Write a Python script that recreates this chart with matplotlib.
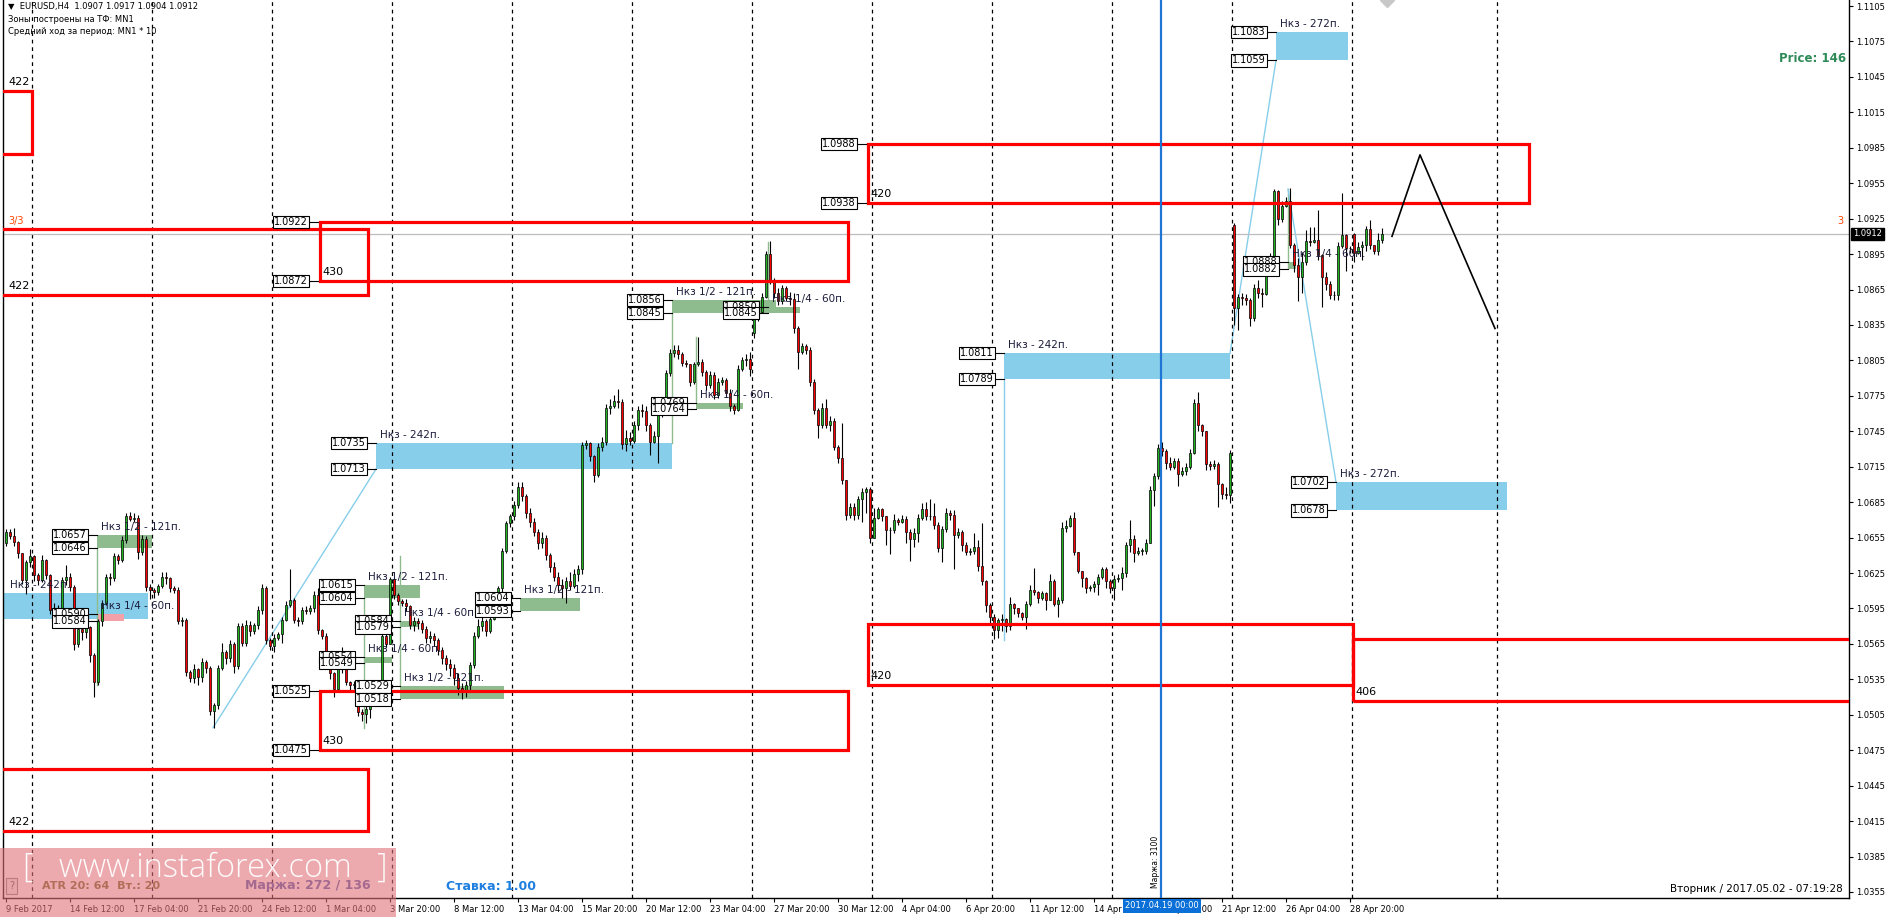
import numpy as np
import matplotlib
matplotlib.use("Agg")
import matplotlib.pyplot as plt
from matplotlib.patches import Rectangle

plt.rcParams['font.family'] = ['DejaVu Sans']

# ---------------- data (prices in pips above 1.0000) ----------------
cl = [660,656,651,642,619,634,639,623,619,636,
      623,594,595,592,619,622,613,565,578,575,
      579,556,533,584,600,622,621,639,636,653,
      673,671,672,643,654,613,611,609,614,622,
      621,612,611,584,585,541,536,544,537,550,
      545,508,513,545,558,553,565,546,580,566,
      581,576,581,594,612,568,563,570,573,585,
      598,602,585,584,594,593,595,606,577,572,
      554,540,527,554,545,533,530,531,507,506,
      510,517,520,519,572,565,620,606,601,600,
      597,581,584,583,578,570,572,568,560,553,
      548,545,536,528,524,530,547,572,580,584,
      576,586,593,612,644,667,673,683,698,690,
      676,668,660,650,655,640,630,622,615,612,
      618,614,624,628,733,735,724,708,732,736,
      765,766,771,770,734,739,737,750,763,762,
      750,736,741,759,763,794,811,814,810,803,
      802,787,802,804,795,784,793,776,787,788,
      777,766,763,798,805,806,798,840,846,859,
      895,873,862,855,866,858,857,832,812,817,
      814,787,763,750,765,750,754,732,722,704,
      674,681,674,688,694,696,655,672,679,673,
      661,661,670,668,671,660,654,659,672,679,
      673,673,666,646,662,676,674,657,660,649,
      643,644,647,631,618,598,588,577,585,586,
      580,599,595,591,588,599,611,609,604,608,
      602,618,599,602,663,665,672,643,627,621,
      612,613,616,622,628,618,612,620,621,625,
      649,654,642,644,644,650,695,707,731,728,
      718,715,720,709,711,715,727,769,750,745,
      717,716,717,700,692,691,727,849,859,858,
      856,841,866,862,861,890,892,948,925,936,
      940,903,886,876,888,906,905,907,894,876,
      870,860,860,902,911,900,900,896,901,903,
      916,903,898,907,912]
hi = [662,662,663,652,642,636,645,640,625,640,
      637,624,600,598,622,632,625,615,582,580,
      583,580,557,586,602,624,625,642,641,656,
      676,677,676,674,657,656,616,612,616,626,
      626,622,614,613,588,587,543,548,545,553,
      551,546,515,547,566,560,568,567,583,583,
      585,584,583,597,616,614,570,573,575,588,
      601,628,604,588,596,597,598,610,612,578,
      574,556,541,558,562,546,534,534,532,510,
      513,520,522,523,575,574,622,622,608,603,
      603,598,588,587,585,580,576,574,570,562,
      556,552,548,540,532,534,550,575,586,588,
      586,589,596,614,646,669,675,686,702,702,
      692,680,672,662,660,657,642,634,626,620,
      622,626,628,632,736,738,736,725,735,740,
      768,772,776,781,772,746,744,754,766,768,
      766,752,745,762,767,797,815,818,818,812,
      805,801,804,825,806,797,796,795,790,791,
      790,781,768,801,808,810,812,846,848,862,
      898,906,875,866,869,868,863,862,834,820,
      819,816,789,765,769,772,758,756,733,752,
      703,684,684,690,697,698,698,680,681,680,
      673,664,675,672,674,673,662,663,675,684,
      685,688,684,668,665,680,678,678,663,661,
      651,646,659,653,667,619,600,590,587,590,
      587,605,600,595,592,601,615,629,610,610,
      609,624,620,605,668,670,674,677,643,627,
      622,615,618,624,630,630,620,623,624,630,
      651,670,657,647,646,654,699,710,734,736,
      730,723,722,722,715,718,730,772,778,751,
      745,720,721,719,701,698,729,921,861,862,
      861,858,870,873,866,893,896,950,949,940,
      943,951,904,892,897,915,918,918,932,895,
      880,872,864,905,947,912,902,913,905,906,
      919,924,903,913,917]
lo = [648,654,648,638,616,607,630,618,615,617,
      620,590,590,588,590,615,610,560,562,568,
      570,550,520,530,580,598,615,618,633,634,
      650,669,668,637,640,610,603,604,606,612,
      616,609,608,582,580,538,533,532,530,533,
      540,505,494,510,543,548,550,540,544,563,
      563,572,573,578,590,565,560,558,568,566,
      584,596,583,580,582,590,590,592,573,569,
      551,535,520,524,540,530,525,527,504,500,
      498,502,514,515,515,562,566,603,598,597,
      593,578,576,578,574,566,566,563,556,548,
      543,538,530,522,518,520,526,545,570,576,
      572,574,585,590,608,642,664,670,680,686,
      672,664,656,645,646,636,626,618,610,604,
      600,611,612,618,624,730,720,702,706,728,
      733,760,765,765,730,728,733,735,746,757,
      745,725,735,718,757,760,792,808,806,800,
      799,783,785,800,792,780,782,772,773,784,
      774,762,760,762,796,800,792,824,838,845,
      858,870,858,852,853,855,852,828,798,810,
      810,783,760,739,748,748,745,729,718,700,
      670,672,670,671,668,676,650,661,671,669,
      649,641,659,666,667,650,635,647,651,670,
      670,670,662,643,634,660,670,628,655,644,
      640,640,641,627,615,592,583,569,570,576,
      575,577,590,588,585,578,597,606,600,602,
      594,602,597,588,600,660,664,640,625,613,
      608,610,609,606,620,612,608,602,617,611,
      622,643,634,640,640,641,650,682,705,724,
      713,712,713,699,707,708,713,726,745,741,
      712,712,713,681,688,688,684,835,831,852,
      852,834,838,858,850,860,883,890,920,922,
      935,900,880,855,862,886,902,904,890,850,
      865,857,856,856,900,881,896,888,895,890,
      898,899,895,894,904]
gap_open = {0: 650, 187: 828, 307: 920, 337: 912}

# red level zones (bar index from/to, price lo/hi)
red_x0 = [-3, -3, 78.5, 215.5, 215.5, 336.75, 78.5, -3]
red_x1 = [6.5, 90.5, 210.5, 380.75, 336.75, 480, 210.5, 90.5]
red_lo = [1.0980, 1.0860, 1.0872, 1.0938, 1.0530, 1.0517, 1.0475, 1.0407]
red_hi = [1.1033, 1.0916, 1.0922, 1.0988, 1.0582, 1.0569, 1.0525, 1.0459]
red_txt = ["422", "422", "430", "420", "420", "406", "430", "422"]
red_txt_top = [True, False, False, False, False, False, False, False]
red_tag = [False, False, True, True, False, False, True, False]

blue_x0 = [-0.75, 92.5, 249.5, 317.5, 332.5]
blue_x1 = [35.5, 166.5, 306.0, 335.5, 375.25]
blue_lo = [1.0586, 1.0713, 1.0789, 1.1059, 1.0678]
blue_hi = [1.0608, 1.0735, 1.0811, 1.1083, 1.0702]
blue_txt = ["Нкз - 242п.", "Нкз - 242п.", "Нкз - 242п.", "Нкз - 272п.", "Нкз - 272п."]
blue_tag = [False, True, True, True, True]

green_x0 = [22.75, 89.5, 98.5, 128.5, 166.5, 172.5, 89.5, 98.5, 190.5, 320.5]
green_x1 = [36.5, 103.5, 124.5, 143.5, 192.5, 184.25, 96.5, 103.0, 198.5, 322.5]
green_lo = [1.0646, 1.0604, 1.0518, 1.0593, 1.0845, 1.0764, 1.0549, 1.0579, 1.0845, 1.0882]
green_hi = [1.0657, 1.0615, 1.0529, 1.0604, 1.0856, 1.0769, 1.0554, 1.0584, 1.0850, 1.0888]
green_txt = ["Нкз 1/2 - 121п."] * 5 + ["Нкз 1/4 - 60п."] * 5

pink_x0, pink_x1, pink_lo, pink_hi = [22.75], [29.5], [1.0584], [1.0590]
pink_txt = ["Нкз 1/4 - 60п."]

lg_x = [22.75, 89.5, 98.5, 166.5, 172.5, 190.5, 320.5]
lg_y0 = [1.0646, 1.0604, 1.0639, 1.0845, 1.0825, 1.0905, 1.0950]
lg_y1 = [1.0530, 1.0494, 1.0529, 1.0735, 1.0769, 1.0856, 1.0883]

lb_x0 = [51.75, 249.5, 306.0, 320.5]
lb_y0 = [1.0494, 1.0568, 1.0811, 1.0950]
lb_x1 = [92.5, 249.5, 317.5, 332.5]
lb_y1 = [1.0713, 1.0789, 1.1059, 1.0702]

fc_x = [346.5, 353.5, 372.25]
fc_y = [1.0910, 1.0979, 1.0832]

sep_x = [6.5, 36.5, 66.5, 96.5, 126.5, 156.5, 186.5, 216.5, 246.5, 276.5, 306.5, 336.5, 372.75]
vline_x = 288.75
bid = 1.0912

xlab_pos = [0, 16, 32, 48, 64, 80, 96, 112, 128, 144, 160, 176, 192, 208, 224, 240,
            256, 272, 288, 304, 320, 336]
xlab_txt = ["9 Feb 2017", "14 Feb 12:00", "17 Feb 04:00", "21 Feb 20:00", "24 Feb 12:00",
            "1 Mar 04:00", "3 Mar 20:00", "8 Mar 12:00", "13 Mar 04:00", "15 Mar 20:00",
            "20 Mar 12:00", "23 Mar 04:00", "27 Mar 20:00", "30 Mar 12:00", "4 Apr 04:00",
            "6 Apr 20:00", "11 Apr 12:00", "14 Apr 04:00", "18 Apr 20:00", "21 Apr 12:00",
            "26 Apr 04:00", "28 Apr 20:00"]
y_ticks = [1.0355, 1.0385, 1.0415, 1.0445, 1.0475, 1.0505, 1.0535, 1.0565, 1.0595,
           1.0625, 1.0655, 1.0685, 1.0715, 1.0745, 1.0775, 1.0805, 1.0835, 1.0865,
           1.0895, 1.0925, 1.0955, 1.0985, 1.1015, 1.1045, 1.1075, 1.1105]

# ---------------- figure ----------------
W, H = 1891, 919
fig = plt.figure(figsize=(W / 100, H / 100), dpi=100)
fig.patch.set_facecolor('white')
AX_L, AX_R, AX_B = 3, 1849, 898
ax = fig.add_axes([AX_L / W, 1 - AX_B / H, (AX_R - AX_L) / W, AX_B / H])


def bx(px):
    return (px - 6) / 4.0


def pr(py):
    return 1.1105 - (py - 6) / 11813.0


PX = 1 / 11813.0
ax.set_xlim(bx(AX_L), bx(AX_R))
ax.set_ylim(pr(AX_B), pr(0))


def FT(px, py, s, **kw):
    return fig.text(px / W, 1 - py / H, s, **kw)


# separators
for x in sep_x:
    ax.axvline(x, color='black', lw=0.9, ls=(0, (3, 3)), zorder=2)

# zones (fills)
for x0, x1, l0, h0, t in zip(blue_x0, blue_x1, blue_lo, blue_hi, blue_txt):
    ax.add_patch(Rectangle((x0, l0), x1 - x0, h0 - l0, facecolor='#87CEEB', edgecolor='none', zorder=1.5))
    ax.text(max(x0, 0) + 1, h0 + 3 * PX, t, fontsize=7.5, color='#1c1c3c', va='bottom', ha='left', zorder=6)
for x0, x1, l0, h0, t in zip(green_x0, green_x1, green_lo, green_hi, green_txt):
    ax.add_patch(Rectangle((x0, l0), x1 - x0, h0 - l0, facecolor='#8FBC8F', edgecolor='none', zorder=1.5))
    ax.text(x0 + 1, h0 + 3 * PX, t, fontsize=7.5, color='#1c1c3c', va='bottom', ha='left', zorder=6)
for x0, x1, l0, h0, t in zip(pink_x0, pink_x1, pink_lo, pink_hi, pink_txt):
    ax.add_patch(Rectangle((x0, l0), x1 - x0, h0 - l0, facecolor='#F4A0A8', edgecolor='none', zorder=1.5))
    ax.text(x0 + 1, h0 + 3 * PX, t, fontsize=7.5, color='#1c1c3c', va='bottom', ha='left', zorder=6)

# light connecting lines
for x, a, b in zip(lg_x, lg_y0, lg_y1):
    ax.plot([x, x], [a, b], color='#8FBC8F', lw=1.0, zorder=1.6)
for xa, ya, xb, yb in zip(lb_x0, lb_y0, lb_x1, lb_y1):
    ax.plot([xa, xb], [ya, yb], color='#87CEEB', lw=1.0, zorder=1.6)

# bid line
ax.axhline(bid, color='#BDBDBD', lw=0.9, zorder=2.5)

# candles
c = 1 + np.array(cl) / 1e4
o = np.r_[np.nan, c[:-1]]
for k, v in gap_open.items():
    o[k] = 1 + v / 1e4
hh = np.maximum(1 + np.array(hi) / 1e4, np.maximum(o, c))
ll = np.minimum(1 + np.array(lo) / 1e4, np.minimum(o, c))
idx = np.arange(len(c))
ax.vlines(idx, ll, hh, color='black', lw=0.8, zorder=3)
bot = np.minimum(o, c)
ht = np.maximum(np.abs(c - o), 0.00005)
cols = np.where(c >= o, '#22B422', '#FF0000')
ax.bar(idx, ht, bottom=bot, width=0.62, color=cols, edgecolor='black', linewidth=0.5, zorder=4)


# tags
def tag(x, p):
    ax.text(x, p, '%.4f' % p, fontsize=7, ha='right', va='center', color='black', zorder=7,
            bbox=dict(boxstyle='square,pad=0.12', facecolor='white', edgecolor='black', lw=0.8))


def tags(x0, l0, h0):
    xt = x0 - 2.5
    for p in (h0, l0):
        ax.plot([xt, x0], [p, p], color='black', lw=0.8, zorder=6)
        tag(xt, p)


for x0, l0, h0, f in zip(blue_x0, blue_lo, blue_hi, blue_tag):
    if f:
        tags(x0, l0, h0)
for x0, l0, h0 in zip(green_x0, green_lo, green_hi):
    tags(x0, l0, h0)
for x0, l0, h0 in zip(pink_x0, pink_lo, pink_hi):
    tags(x0, l0, h0)

# red zones
for x0, x1, l0, h0, t, top, f in zip(red_x0, red_x1, red_lo, red_hi, red_txt, red_txt_top, red_tag):
    ax.add_patch(Rectangle((x0, l0), x1 - x0, h0 - l0, fill=False, edgecolor='#FF0000', lw=2.3, zorder=5))
    tx = max(x0, bx(6)) + 0.6
    ty = (h0 + 4 * PX) if top else (l0 + 4 * PX)
    ax.text(tx, ty, t, fontsize=8, color='black', ha='left', va='bottom', zorder=6)
    if f:
        tags(x0 - 0.5, l0, h0)

# forecast zigzag
ax.plot(fc_x, fc_y, color='black', lw=1.2, zorder=6)
ax.plot([bx(1387)], [pr(0)], marker='D', color='#C8C8C8', ms=7, zorder=6, clip_on=True)

# vertical blue time line
ax.axvline(vline_x, color='#1F74D4', lw=1.6, zorder=6)

# axes styling
ax.spines['top'].set_visible(False)
for s in ['left', 'right', 'bottom']:
    ax.spines[s].set_color('black')
    ax.spines[s].set_linewidth(1.0)
ax.yaxis.tick_right()
ax.set_yticks(y_ticks)
ax.set_yticklabels(['%.4f' % v for v in y_ticks])
ax.tick_params(axis='y', length=3, width=0.8, labelsize=6, pad=2)
ax.set_xticks(xlab_pos)
ax.set_xticklabels(xlab_txt)
ax.tick_params(axis='x', length=3, width=0.8, labelsize=6, pad=2)
for lbl in ax.get_xticklabels():
    lbl.set_ha('left')

# texts
FT(8, 7, '▼  EURUSD,H4  1.0907 1.0917 1.0904 1.0912', fontsize=6, va='center')
FT(8, 20, 'Зоны построены на ТФ: MN1', fontsize=6, va='center')
FT(8, 32, 'Средний ход за период: MN1 * 10', fontsize=6, va='center')
FT(1846, 58, 'Price: 146', fontsize=8.5, color='#2E8B57', fontweight='bold', ha='right', va='center')
FT(8, 221, '3/3', fontsize=7, color='#FF4500', va='center')
FT(1843, 221, '3', fontsize=7, color='#FF4500', va='center', ha='right')
FT(1853, 234, '1.0912', fontsize=6, color='white', va='center',
   bbox=dict(boxstyle='square,pad=0.2', facecolor='black', edgecolor='black'))
FT(1843, 889, 'Вторник / 2017.05.02 - 07:19:28', fontsize=7.5, ha='right', va='center')
FT(1156, 888, 'Маржа: 3100', fontsize=5.5, rotation=90, ha='center', va='bottom')
FT(1125, 906, '2017.04.19 00:00', fontsize=6, color='white', va='center',
   bbox=dict(boxstyle='square,pad=0.25', facecolor='#0A6FD6', edgecolor='none'), zorder=8)

FT(446, 886, 'Ставка: 1.00', fontsize=9, color='#1E7FE0', fontweight='bold', va='center')
FT(245, 886, 'Маржа: 272 / 136', fontsize=9, color='#4A5FB0', fontweight='bold', va='center')
FT(42, 886, 'ATR 20: 64  Вт.: 20', fontsize=8, color='#6B6B2A', fontweight='bold', va='center')
FT(9, 886, '?', fontsize=7, color='#555555', va='center',
   bbox=dict(boxstyle='square,pad=0.3', facecolor='#F0F0F0', edgecolor='#888888', lw=0.8))
wm = Rectangle((0, 1 - 917 / H), 396 / W, (917 - 848) / H, transform=fig.transFigure,
               facecolor='#E07078', edgecolor='none', alpha=0.6, zorder=9)
fig.patches.append(wm)
FT(205, 868, '[   www.instaforex.com   ]', fontsize=23.5, color='white', ha='center', va='center',
   alpha=0.95, zorder=10, family=['Open Sans', 'DejaVu Sans'], fontweight='light')

fig.savefig('out.png', dpi=100, facecolor='white')
